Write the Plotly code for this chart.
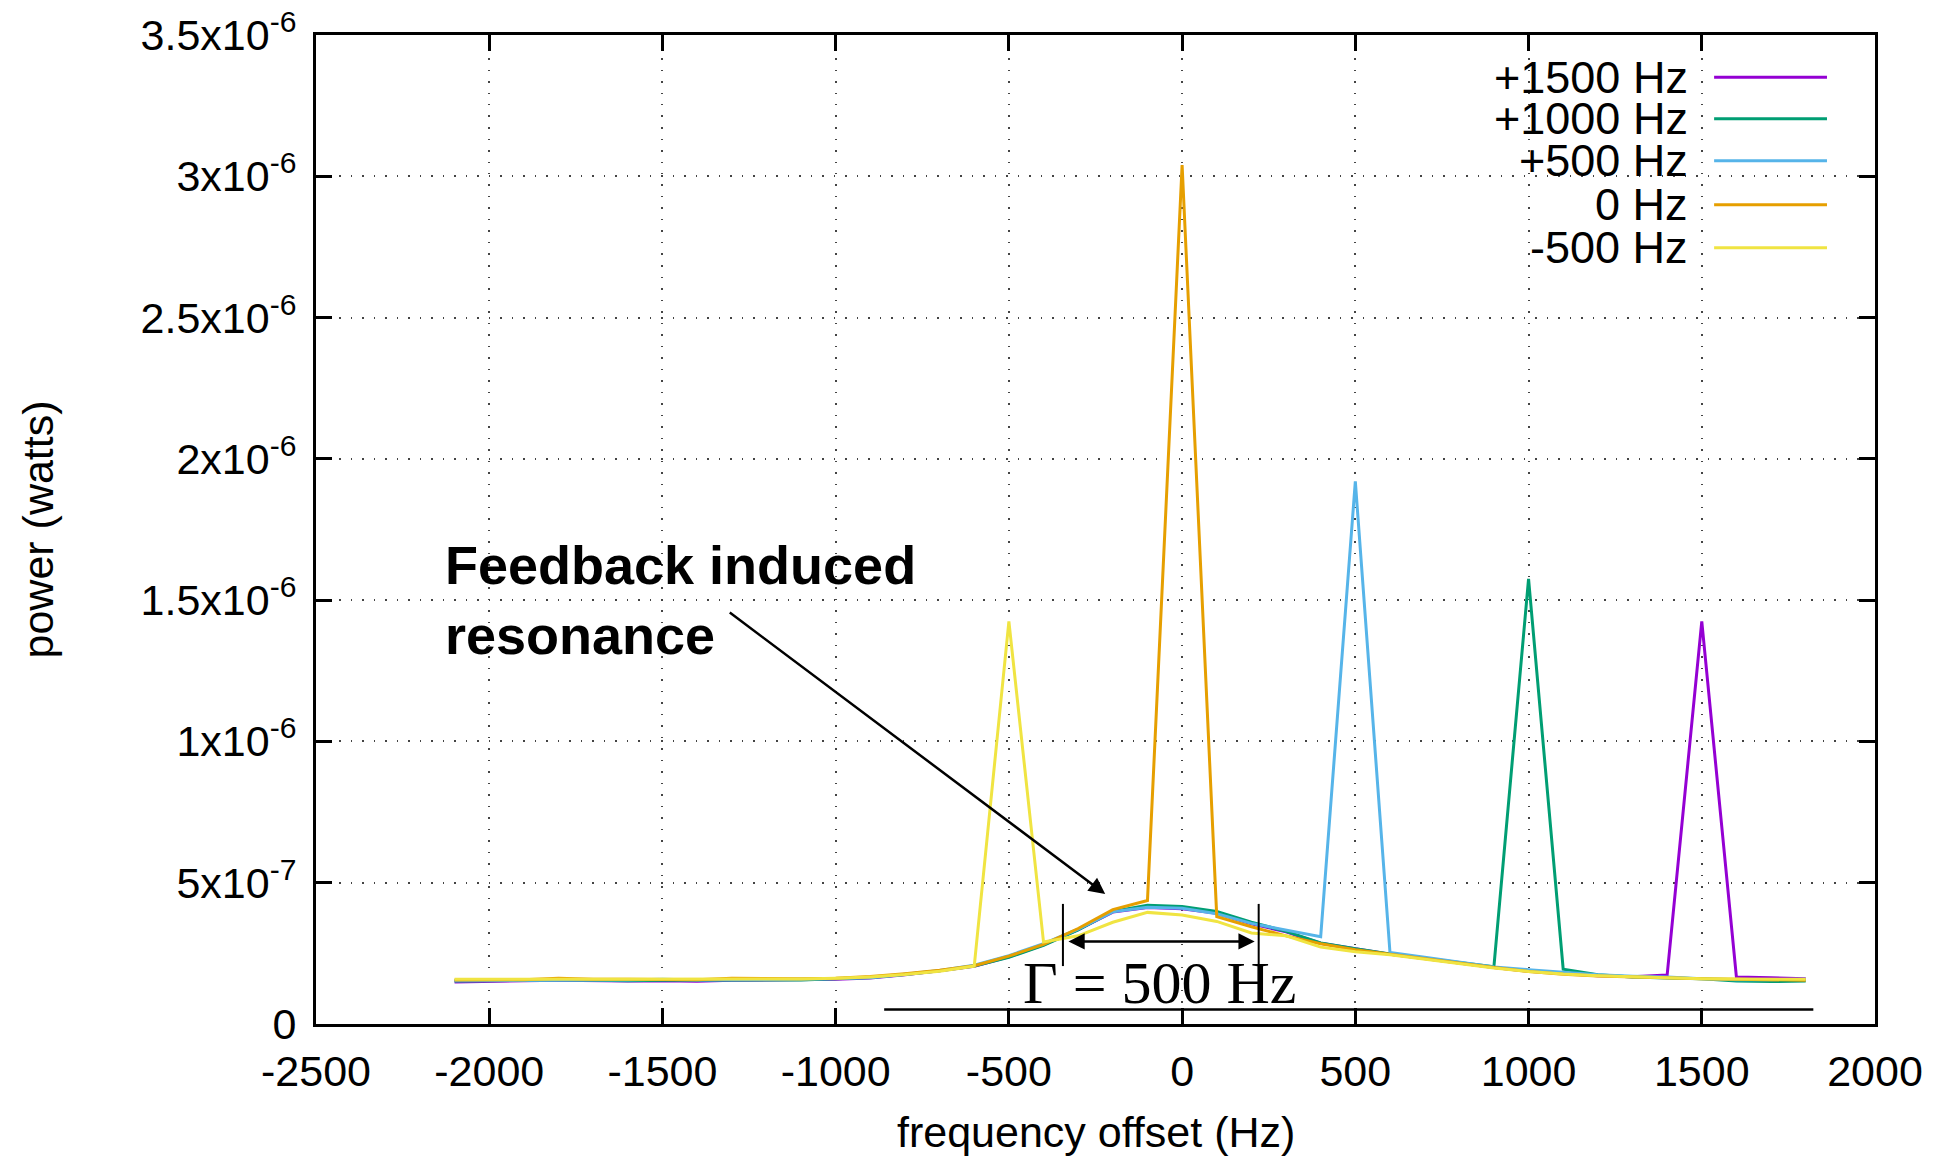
import plotly.graph_objects as go

# ---------------- data ----------------
freq_hz = [-2100, -2000, -1900, -1800, -1700, -1600, -1500, -1400, -1300, -1200,
           -1100, -1000, -900, -800, -700, -600, -500, -400, -300, -200,
           -100, 0, 100, 200, 300, 400, 500, 600, 700, 800,
           900, 1000, 1100, 1200, 1300, 1400, 1500, 1600, 1700, 1800]

p_plus1500 = [1.49e-7, 1.50e-7, 1.53e-7, 1.55e-7, 1.53e-7, 1.52e-7, 1.53e-7, 1.51e-7, 1.55e-7, 1.56e-7,
              1.55e-7, 1.58e-7, 1.63e-7, 1.74e-7, 1.88e-7, 2.04e-7, 2.38e-7, 2.80e-7, 3.34e-7, 3.96e-7,
              4.12e-7, 4.08e-7, 3.92e-7, 3.55e-7, 3.26e-7, 2.86e-7, 2.66e-7, 2.47e-7, 2.32e-7, 2.16e-7,
              2.00e-7, 1.87e-7, 1.78e-7, 1.71e-7, 1.67e-7, 1.73e-7, 1.425e-6, 1.66e-7, 1.64e-7, 1.60e-7]

p_plus1000 = [1.52e-7, 1.53e-7, 1.56e-7, 1.56e-7, 1.55e-7, 1.53e-7, 1.55e-7, 1.55e-7, 1.56e-7, 1.57e-7,
              1.56e-7, 1.60e-7, 1.65e-7, 1.75e-7, 1.88e-7, 2.05e-7, 2.36e-7, 2.78e-7, 3.33e-7, 3.98e-7,
              4.20e-7, 4.16e-7, 3.98e-7, 3.60e-7, 3.28e-7, 2.87e-7, 2.66e-7, 2.48e-7, 2.33e-7, 2.18e-7,
              2.03e-7, 1.575e-6, 1.94e-7, 1.74e-7, 1.66e-7, 1.63e-7, 1.60e-7, 1.52e-7, 1.50e-7, 1.52e-7]

p_plus500 = [1.53e-7, 1.54e-7, 1.55e-7, 1.57e-7, 1.56e-7, 1.56e-7, 1.58e-7, 1.56e-7, 1.57e-7, 1.56e-7,
             1.58e-7, 1.61e-7, 1.64e-7, 1.76e-7, 1.89e-7, 2.08e-7, 2.42e-7, 2.84e-7, 3.36e-7, 3.97e-7,
             4.13e-7, 4.10e-7, 3.90e-7, 3.56e-7, 3.33e-7, 3.09e-7, 1.92e-6, 2.53e-7, 2.36e-7, 2.20e-7,
             2.02e-7, 1.92e-7, 1.82e-7, 1.74e-7, 1.69e-7, 1.66e-7, 1.60e-7, 1.57e-7, 1.57e-7, 1.58e-7]

p_zero = [1.56e-7, 1.57e-7, 1.57e-7, 1.62e-7, 1.58e-7, 1.58e-7, 1.58e-7, 1.57e-7, 1.62e-7, 1.61e-7,
          1.60e-7, 1.62e-7, 1.68e-7, 1.78e-7, 1.90e-7, 2.06e-7, 2.40e-7, 2.82e-7, 3.38e-7, 4.05e-7,
          4.37e-7, 3.04e-6, 3.80e-7, 3.44e-7, 3.12e-7, 2.84e-7, 2.63e-7, 2.47e-7, 2.31e-7, 2.15e-7,
          2.00e-7, 1.86e-7, 1.76e-7, 1.70e-7, 1.66e-7, 1.62e-7, 1.60e-7, 1.58e-7, 1.56e-7, 1.55e-7]

p_minus500 = [1.58e-7, 1.58e-7, 1.58e-7, 1.60e-7, 1.58e-7, 1.59e-7, 1.59e-7, 1.58e-7, 1.59e-7, 1.58e-7,
              1.59e-7, 1.62e-7, 1.66e-7, 1.75e-7, 1.87e-7, 2.05e-7, 1.425e-6, 2.90e-7, 3.12e-7, 3.60e-7,
              3.95e-7, 3.86e-7, 3.63e-7, 3.22e-7, 3.12e-7, 2.72e-7, 2.56e-7, 2.45e-7, 2.30e-7, 2.13e-7,
              1.98e-7, 1.86e-7, 1.77e-7, 1.71e-7, 1.67e-7, 1.64e-7, 1.60e-7, 1.59e-7, 1.58e-7, 1.58e-7]

series_names = ["+1500 Hz", "+1000 Hz", "+500 Hz", "0 Hz", "-500 Hz"]
series_values = [p_plus1500, p_plus1000, p_plus500, p_zero, p_minus500]
series_colors = ["#9400d3", "#009e73", "#56b4e9", "#e69f00", "#f0e442"]

x_tickvals = [-2500, -2000, -1500, -1000, -500, 0, 500, 1000, 1500, 2000]
y_tickvals = [0, 5e-7, 1e-6, 1.5e-6, 2e-6, 2.5e-6, 3e-6, 3.5e-6]
y_mantissa = ["0", "5", "1", "1.5", "2", "2.5", "3", "3.5"]
y_exponent = [None, "-7", "-6", "-6", "-6", "-6", "-6", "-6"]

# annotation geometry (data coordinates)
label_text = "<b>Feedback induced<br>resonance</b>"
label_pos = (-2134, 1.50e-6)
arrow_tail = (-1310, 1.46e-6)
arrow_head = (-222, 4.6e-7)
gamma_left, gamma_right = -344, 221
gamma_bar_y = (2.05e-7, 4.25e-7)
gamma_arrow_y = 2.92e-7
gamma_text = "Γ = 500 Hz"
gamma_text_pos = (-64, 1.46e-7)
base_line = (-860, 1822, 5.1e-8)

FONT = "Liberation Sans, Arial, Helvetica, sans-serif"
FS = 43


def y_label(m, e):
    if e is None:
        return m
    return m + "x10<sup>" + e + "</sup>"


y_ticktext = [y_label(m, e) for m, e in zip(y_mantissa, y_exponent)]

fig = go.Figure()
for name, vals, col in zip(series_names, series_values, series_colors):
    fig.add_trace(go.Scatter(x=freq_hz, y=vals, mode="lines", name=name,
                             line=dict(color=col, width=3), showlegend=False))

axis_common = dict(
    showline=True, linecolor="black", linewidth=3, mirror="allticks",
    ticks="inside", ticklen=16, tickwidth=2.5, tickcolor="black",
    showgrid=True, gridcolor="#444444", gridwidth=1.5, griddash="1.5px,10px",
    zeroline=False, tickfont=dict(family=FONT, size=FS, color="black"),
    ticklabeloverflow="allow", automargin=False,
)

fig.update_xaxes(range=[-2500, 2000], tickvals=x_tickvals,
                 ticktext=[str(v) for v in x_tickvals], ticklabelstandoff=7, **axis_common)
fig.update_yaxes(range=[0, 3.5e-6], tickvals=y_tickvals, ticktext=y_ticktext,
                 ticklabelstandoff=8, **axis_common)

annotations = [
    dict(text="frequency offset (Hz)", xref="paper", yref="paper", x=0.5, y=0,
         yshift=-108, xanchor="center", yanchor="middle", showarrow=False,
         font=dict(family=FONT, size=FS, color="black")),
    dict(text="power (watts)", xref="paper", yref="paper", x=0, y=0.5,
         xshift=-279, textangle=-90, xanchor="center", yanchor="middle", showarrow=False,
         font=dict(family=FONT, size=FS, color="black")),
    dict(text=label_text, x=label_pos[0], y=label_pos[1], xref="x", yref="y",
         xanchor="left", yanchor="middle", align="left", showarrow=False,
         font=dict(family=FONT, size=54, color="black")),
    dict(text="", x=arrow_head[0], y=arrow_head[1], ax=arrow_tail[0], ay=arrow_tail[1],
         xref="x", yref="y", axref="x", ayref="y", showarrow=True,
         arrowhead=2, arrowsize=1.3, arrowwidth=2.5, arrowcolor="black", standoff=0),
    dict(text="", x=gamma_right, y=gamma_arrow_y, ax=gamma_left, ay=gamma_arrow_y,
         xref="x", yref="y", axref="x", ayref="y", showarrow=True, arrowside="end+start",
         arrowhead=2, arrowsize=1.3, arrowwidth=2.5, arrowcolor="black",
         standoff=4, startstandoff=4),
    dict(text=gamma_text, x=gamma_text_pos[0], y=gamma_text_pos[1], xref="x", yref="y",
         xanchor="center", yanchor="middle", showarrow=False,
         font=dict(family="Liberation Serif, Times New Roman, serif", size=60, color="black")),
]

# manual gnuplot-style key (text right-aligned, line sample to the right)
key_y = [0.9573, 0.9153, 0.8729, 0.8283, 0.7849]
key_text_x = 0.8815
key_line_x = (0.8968, 0.9692)
shapes = []
for name, col, ky in zip(series_names, series_colors, key_y):
    annotations.append(dict(text=name, xref="paper", yref="paper", x=key_text_x, y=ky,
                            xanchor="right", yanchor="middle", showarrow=False,
                            font=dict(family=FONT, size=45, color="black")))
    shapes.append(dict(type="line", xref="paper", yref="paper", x0=key_line_x[0], x1=key_line_x[1],
                       y0=ky, y1=ky, line=dict(color=col, width=3)))

# Gamma bars and baseline
for gx in (gamma_left, gamma_right):
    shapes.append(dict(type="line", xref="x", yref="y", x0=gx, x1=gx,
                       y0=gamma_bar_y[0], y1=gamma_bar_y[1], line=dict(color="black", width=2)))
shapes.append(dict(type="line", xref="x", yref="y", x0=base_line[0], x1=base_line[1],
                   y0=base_line[2], y1=base_line[2], line=dict(color="black", width=2.5)))

fig.update_layout(
    width=1946, height=1157,
    margin=dict(l=316, r=71, t=35, b=133, autoexpand=False),
    paper_bgcolor="white", plot_bgcolor="white",
    annotations=annotations, shapes=shapes,
    font=dict(family=FONT, size=FS, color="black"),
)

# remove the default 8px page margin so the figure fills the window exactly
fig.write_html("out.html", config={"displayModeBar": False},
               post_script="document.body.style.margin='0';")
